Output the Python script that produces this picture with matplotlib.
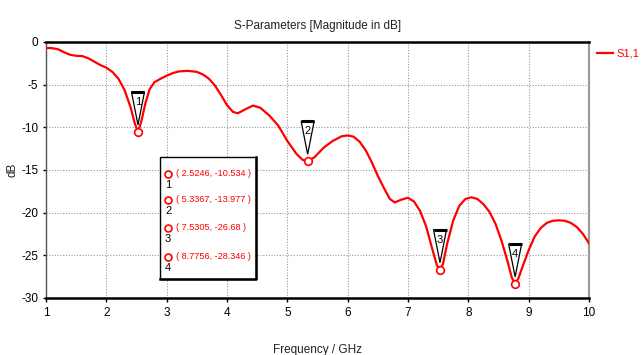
import matplotlib
matplotlib.use("Agg")
import matplotlib.pyplot as plt
from matplotlib.patches import Polygon, Rectangle
from matplotlib.transforms import ScaledTranslation

plt.rcParams['font.family'] = ['Liberation Sans', 'DejaVu Sans']
plt.rcParams['axes.unicode_minus'] = False

# S11 trace (frequency in GHz, magnitude in dB)
freq = [1.00, 1.10, 1.20, 1.30, 1.40, 1.50, 1.60, 1.70, 1.80, 1.90, 2.00, 2.10, 2.20,
        2.30, 2.40, 2.47, 2.5246, 2.58, 2.65, 2.72, 2.80, 2.90, 3.00, 3.10, 3.20, 3.35,
        3.50, 3.60, 3.70, 3.80, 3.90, 4.00, 4.10, 4.18, 4.30, 4.43, 4.55, 4.70, 4.85,
        5.00, 5.15, 5.25, 5.3367, 5.45, 5.60, 5.75, 5.90, 6.00, 6.10, 6.20, 6.30, 6.40,
        6.50, 6.60, 6.70, 6.78, 6.88, 7.00, 7.10, 7.20, 7.30, 7.40, 7.48, 7.5305, 7.58,
        7.65, 7.75, 7.85, 7.95, 8.05, 8.15, 8.25, 8.35, 8.45, 8.55, 8.65, 8.72, 8.7756,
        8.83, 8.90, 9.00, 9.10, 9.20, 9.30, 9.40, 9.50, 9.60, 9.70, 9.80, 9.90, 10.00]
s11 = [-0.70, -0.72, -0.85, -1.20, -1.50, -1.62, -1.65, -1.90, -2.30, -2.70, -3.00, -3.50, -4.30,
       -5.60, -7.60, -9.50, -10.534, -9.30, -7.10, -5.50, -4.70, -4.30, -3.95, -3.65, -3.45, -3.38,
       -3.50, -3.80, -4.30, -5.10, -6.20, -7.40, -8.20, -8.35, -7.90, -7.45, -7.70, -8.60, -9.80,
       -11.60, -13.10, -13.80, -13.977, -13.50, -12.40, -11.60, -11.05, -10.95, -11.10, -11.70, -12.70, -14.10,
       -15.70, -17.10, -18.40, -18.80, -18.50, -18.25, -18.70, -19.80, -21.60, -24.20, -26.20, -26.68, -26.00,
       -23.60, -20.90, -19.20, -18.40, -18.20, -18.40, -19.00, -19.90, -21.30, -23.30, -25.70, -27.60, -28.346,
       -27.70, -26.30, -24.40, -22.80, -21.80, -21.20, -20.95, -20.90, -20.95, -21.20, -21.70, -22.50, -23.60]

marker_freq = [2.5246, 5.3367, 7.5305, 8.7756]
marker_db = [-10.534, -13.977, -26.68, -28.346]
marker_labels = ["( 2.5246, -10.534 )", "( 5.3367, -13.977 )", "( 7.5305, -26.68 )", "( 8.7756, -28.346 )"]

xticks = [1, 2, 3, 4, 5, 6, 7, 8, 9, 10]
yticks = [0, -5, -10, -15, -20, -25, -30]

fig = plt.figure(figsize=(6.43, 3.55), dpi=100)
ax = fig.add_axes([46/643, 1-298/355, 543/643, 256/355])
ax.set_xlim(1, 10)
ax.set_ylim(-30, 0)
ax.set_xticks(xticks)
ax.set_yticks(yticks)
ax.tick_params(labelsize=8.5, length=3, width=1, colors='black')
ax.tick_params(axis='y', length=2)
ax.grid(True, linestyle=(0, (1, 1.5)), color='#9a9a9a', linewidth=0.8)
for side in ['top', 'bottom']:
    ax.spines[side].set_linewidth(1.8)
    ax.spines[side].set_color('black')
ax.spines['left'].set_color('#555555')
ax.spines['left'].set_linewidth(1.0)
ax.spines['right'].set_color('#999999')
ax.spines['right'].set_linewidth(1.5)

ax.plot(freq, s11, color='red', linewidth=1.6, label='S1,1', zorder=3)
ax.plot(marker_freq, marker_db, linestyle='none', marker='o', markersize=5.5,
        markerfacecolor='white', markeredgecolor='red', markeredgewidth=1.2, zorder=4)

for i, (f, d) in enumerate(zip(marker_freq, marker_db)):
    tr = fig.dpi_scale_trans + ScaledTranslation(f, d, ax.transData)
    tri = Polygon([(-0.065, 0.40), (0.065, 0.40), (0.0, 0.07)], closed=True,
                  facecolor='white', edgecolor='black', linewidth=0.9, transform=tr, zorder=5)
    ax.add_patch(tri)
    ax.plot([-0.065, 0.065], [0.40, 0.40], color='black', linewidth=2.2, transform=tr,
            solid_capstyle='butt', zorder=6)
    ax.text(0.0, 0.30, str(i + 1), transform=tr, ha='center', va='center', fontsize=8,
            color='black', zorder=7)

# marker readout box
box = Rectangle((0.21, 0.074), 0.177, 0.477, transform=ax.transAxes, facecolor='white',
                edgecolor='black', linewidth=1.0, zorder=8)
ax.add_patch(box)
ax.plot([0.387, 0.387, 0.21], [0.551, 0.074, 0.074], transform=ax.transAxes, color='black',
        linewidth=1.8, zorder=9)
row_y = [0.485, 0.383, 0.274, 0.161]
for i, (lbl, yy) in enumerate(zip(marker_labels, row_y)):
    ax.plot([0.225], [yy], transform=ax.transAxes, marker='o', markersize=5,
            markerfacecolor='white', markeredgecolor='red', markeredgewidth=1.2, zorder=10)
    ax.text(0.225, yy - 0.045, str(i + 1), transform=ax.transAxes, ha='center', va='center',
            fontsize=8, color='black', zorder=10)
    ax.text(0.240, yy, lbl, transform=ax.transAxes, ha='left', va='center', fontsize=6.6,
            color='red', zorder=10)

ax.set_title('S-Parameters [Magnitude in dB]', fontsize=8.5, color='#222222', pad=9)
ax.set_xlabel('Frequency / GHz', fontsize=8.5, color='#222222')
ax.xaxis.set_label_coords(0.5, -0.18)
ax.set_ylabel('dB', fontsize=8.5, color='#222222')
ax.yaxis.set_label_coords(-0.05, 0.5)

ax.legend(loc='upper left', bbox_to_anchor=(1.015, 0.975), frameon=False, fontsize=8,
          handlelength=1.4, handletextpad=0.3, labelcolor='red', borderaxespad=0,
          borderpad=0)

fig.savefig('out.png', dpi=100)
